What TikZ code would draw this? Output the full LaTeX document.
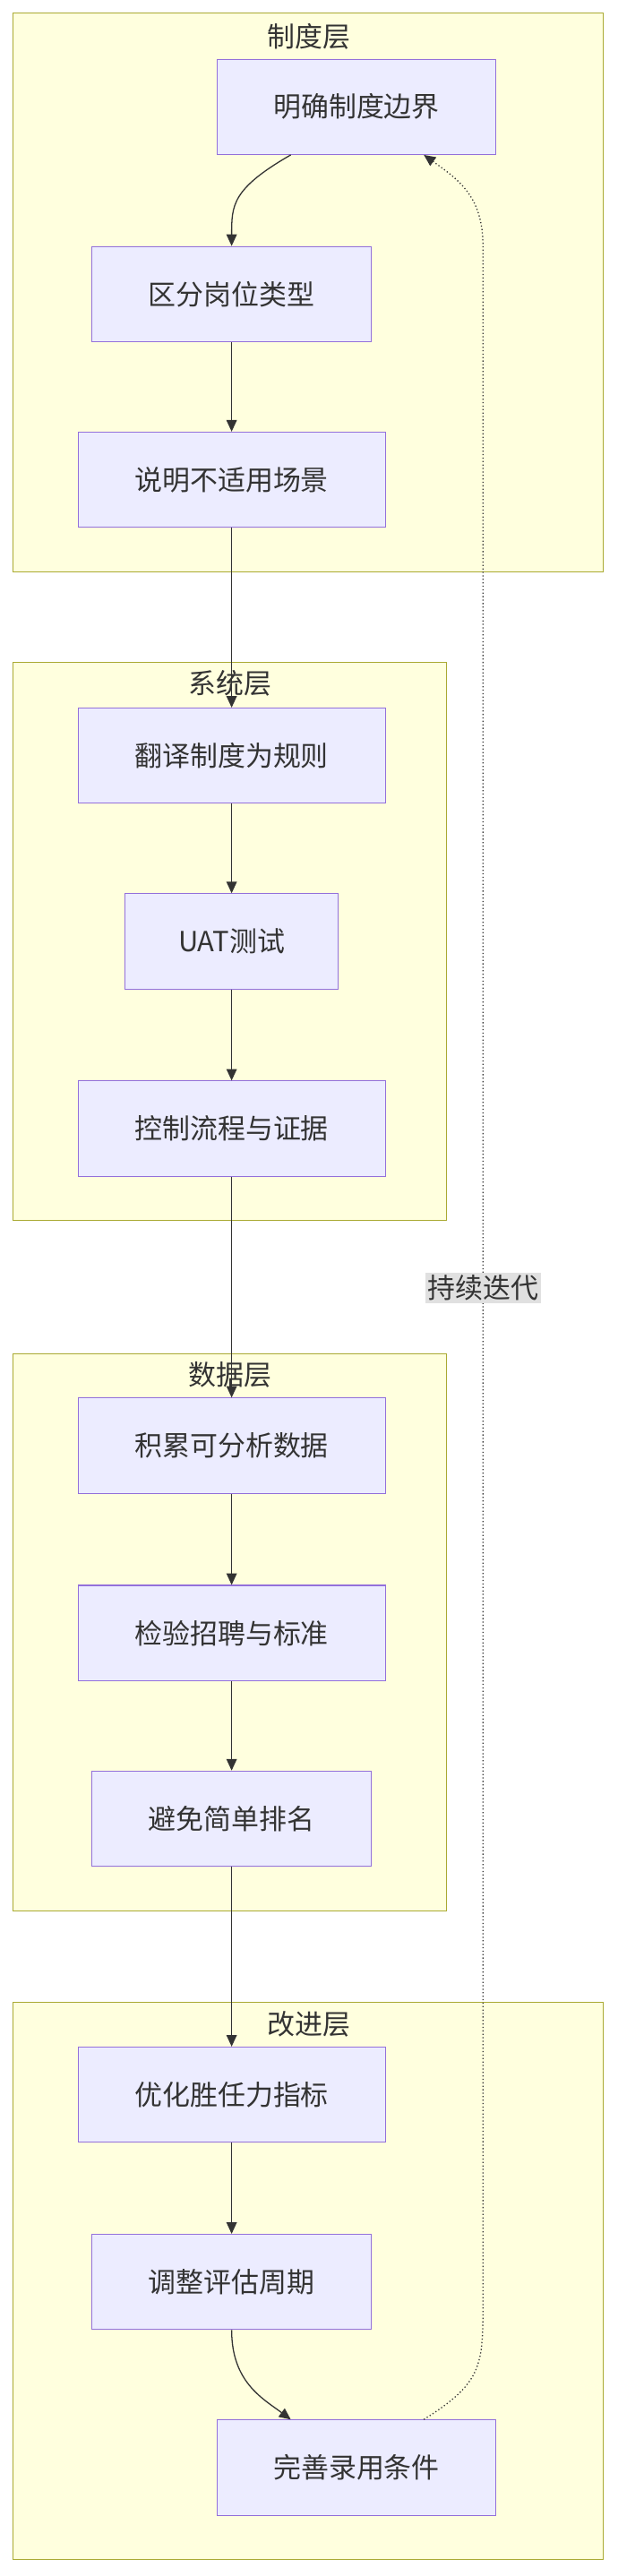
\documentclass[tikz,border=0pt]{standalone}
\usepackage{fontspec}
\setmainfont{Noto Sans CJK SC}
\usetikzlibrary{arrows.meta}
\definecolor{clfill}{HTML}{FFFFDE}
\definecolor{cldraw}{HTML}{AAAA33}
\definecolor{ndfill}{HTML}{ECECFF}
\definecolor{nddraw}{HTML}{9370DB}
\tikzset{
  layer/.style={draw=cldraw,fill=clfill,line width=0.8pt},
  task/.style={draw=nddraw,fill=ndfill,line width=0.8pt,minimum height=2.9cm,
    font=\fontsize{24}{28}\selectfont,text=black!80},
  title/.style={font=\fontsize{24}{28}\selectfont,text=black!80},
  flow/.style={-{Triangle[length=10pt,width=9pt]},line width=1pt,draw=black!80},
}
\begin{document}
\begin{tikzpicture}[x=0.05cm,y=-0.05cm]
    \useasboundingbox (0,0) rectangle (376,1568);

    % layers
    \draw[layer] (8,8) rectangle (367,348);
    \node[title] (t1) at (188,22) {制度层};
    \draw[layer] (8,403) rectangle (272,743);
    \node[title] (t2) at (140,416) {系统层};
    \draw[layer] (8,824) rectangle (272,1163);
    \node[title] (t3) at (140,837) {数据层};
    \draw[layer] (8,1219) rectangle (367,1558);
    \node[title] (t4) at (188,1232) {改进层};

    % tasks
    \node[task,minimum width=8.5cm] (bound) at (217,65) {明确制度边界};
    \node[task,minimum width=8.5cm] (kind) at (141,179) {区分岗位类型};
    \node[task,minimum width=9.35cm] (scene) at (141,292) {说明不适用场景};
    \node[task,minimum width=9.35cm] (rule) at (141,460) {翻译制度为规则};
    \node[task,minimum width=6.5cm] (uat) at (141,573) {UAT测试};
    \node[task,minimum width=9.35cm] (ctrl) at (141,687) {控制流程与证据};
    \node[task,minimum width=9.35cm] (data) at (141,880) {积累可分析数据};
    \node[task,minimum width=9.35cm] (check) at (141,994) {检验招聘与标准};
    \node[task,minimum width=8.5cm] (rank) at (141,1107) {避免简单排名};
    \node[task,minimum width=9.35cm] (metric) at (141,1275) {优化胜任力指标};
    \node[task,minimum width=8.5cm] (cycle) at (141,1389) {调整评估周期};
    \node[task,minimum width=8.5cm] (hire) at (217,1502) {完善录用条件};

    % flow
    \draw[flow] (bound.south -| 177,0) .. controls (141,115) and (141,125) .. (kind.north);
    \foreach \a/\b in {kind/scene,scene/rule,rule/uat,uat/ctrl,ctrl/data,
                       data/check,check/rank,rank/metric,metric/cycle}
        \draw[flow] (\a) -- (\b);
    \draw[flow] (cycle.south) .. controls (141,1450) and (160,1460) .. (hire.north -| 177,0);

    % feedback
    \draw[flow,dotted] (hire.north -| 258,0) .. controls (294,1450) and (294,1440) .. (294,1400)
        -- (294,784) node[fill=black!12,inner sep=2pt,font=\fontsize{24}{28}\selectfont,text=black!80] (loop) {持续迭代}
        -- (294,150) .. controls (294,120) and (280,110) .. (bound.south -| 258,0);
\end{tikzpicture}
\end{document}
